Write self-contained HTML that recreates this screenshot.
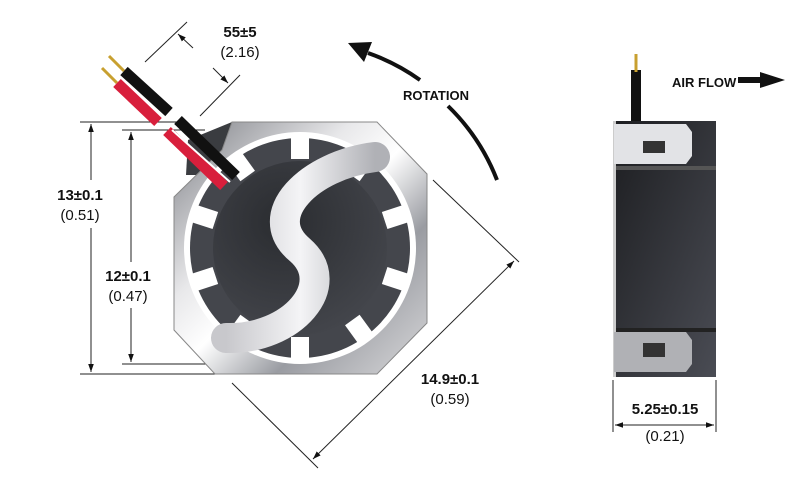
<!DOCTYPE html>
<html><head><meta charset="utf-8"><style>
body{margin:0;background:#fff}
svg{display:block}
text{font-family:"Liberation Sans",sans-serif;fill:#111}
.b{font-weight:bold;font-size:15px}
.n{font-size:15px}
</style></head><body>
<svg width="800" height="484" viewBox="0 0 800 484" xmlns="http://www.w3.org/2000/svg">
<defs>
<linearGradient id="sil" x1="0" y1="0" x2="1" y2="1">
<stop offset="0" stop-color="#7a7c82"/><stop offset="0.35" stop-color="#e8e8ea"/><stop offset="0.5" stop-color="#ffffff"/><stop offset="0.7" stop-color="#9a9ca2"/><stop offset="1" stop-color="#d8d8da"/>
</linearGradient>
<linearGradient id="sil2" x1="0" y1="0" x2="1" y2="0">
<stop offset="0" stop-color="#c8c8cc"/><stop offset="0.5" stop-color="#f4f4f6"/><stop offset="1" stop-color="#b0b1b6"/>
</linearGradient>
<radialGradient id="hub" cx="0.4" cy="0.35" r="0.7">
<stop offset="0" stop-color="#2a2c30"/><stop offset="1" stop-color="#44464c"/>
</radialGradient>
<linearGradient id="side" x1="0" y1="0" x2="1" y2="1">
<stop offset="0" stop-color="#1c1d20"/><stop offset="1" stop-color="#4a4c54"/>
</linearGradient>
<marker id="ar" viewBox="0 0 10 10" refX="10" refY="5" markerWidth="8" markerHeight="8" orient="auto-start-reverse"><path d="M0 1.5L10 5L0 8.5z" fill="#111"/></marker>
</defs>

<g stroke="#222" stroke-width="1" fill="none">
<line x1="80" y1="122" x2="185" y2="122"/>
<line x1="80" y1="374" x2="215" y2="374"/>
<line x1="122" y1="130" x2="205" y2="130"/>
<line x1="122" y1="364" x2="215" y2="364"/>
<line x1="91" y1="124" x2="91" y2="180" marker-start="url(#ar)"/>
<line x1="91" y1="228" x2="91" y2="372" marker-end="url(#ar)"/>
<line x1="131" y1="132" x2="131" y2="262" marker-start="url(#ar)"/>
<line x1="131" y1="308" x2="131" y2="362" marker-end="url(#ar)"/>
<line x1="145" y1="62" x2="187" y2="22"/>
<line x1="200" y1="116" x2="240" y2="75"/>
<line x1="193" y1="48" x2="178" y2="34" marker-end="url(#ar)"/>
<line x1="213" y1="68" x2="228" y2="83" marker-end="url(#ar)"/>
<line x1="433" y1="180" x2="519" y2="262"/>
<line x1="232" y1="383" x2="318" y2="468"/>
<line x1="514" y1="261" x2="313" y2="459" marker-start="url(#ar)" marker-end="url(#ar)"/>
</g>

<g>
<path d="M188 140 L232 122 L232 175 L186 175 Z" fill="#3a3c40"/>
<path d="M232 122 L377 122 L427 174 L427 323 L377 374 L215 374 L174 330 L174 197 L222 150 Z" fill="url(#sil)" stroke="#888" stroke-width="1"/>
<circle cx="300" cy="248" r="116" fill="#fff"/>
<circle cx="300" cy="248" r="110" fill="#44464c"/>
<g fill="#fff" transform="translate(300 248)">
<g id="nt"><rect x="-9" y="-113" width="18" height="24"/></g>
<use href="#nt" transform="rotate(36)"/><use href="#nt" transform="rotate(72)"/><use href="#nt" transform="rotate(108)"/><use href="#nt" transform="rotate(144)"/><use href="#nt" transform="rotate(180)"/><use href="#nt" transform="rotate(216)"/><use href="#nt" transform="rotate(252)"/><use href="#nt" transform="rotate(288)"/><use href="#nt" transform="rotate(324)"/>
</g>
<circle cx="300" cy="248" r="87" fill="url(#hub)"/>
<path d="M375 157 C310 165 258 215 300 250 C340 285 292 340 226 338" fill="none" stroke="url(#sil2)" stroke-width="30" stroke-linecap="round"/>
</g>

<g stroke-linecap="butt">
<line x1="109" y1="56" x2="124" y2="71" stroke="#c8a030" stroke-width="3"/>
<line x1="102" y1="68" x2="117" y2="83" stroke="#c8a030" stroke-width="3"/>
<line x1="124" y1="71" x2="169" y2="112" stroke="#111" stroke-width="11"/>
<line x1="178" y1="120" x2="236" y2="176" stroke="#111" stroke-width="11"/>
<line x1="117" y1="83" x2="158" y2="122" stroke="#d81f3c" stroke-width="11"/>
<line x1="167" y1="131" x2="224" y2="186" stroke="#d81f3c" stroke-width="11"/>
<line x1="172" y1="130" x2="230" y2="182" stroke="#fff" stroke-width="2"/>
</g>

<path d="M497 180 A208 208 0 0 0 448 106" fill="none" stroke="#111" stroke-width="4"/>
<path d="M420 80 A208 208 0 0 0 368 53" fill="none" stroke="#111" stroke-width="4"/>
<path d="M348 43 L372 42 L364 62 Z" fill="#111"/>
<text x="436" y="100" text-anchor="middle" style="font-size:13px;font-weight:bold">ROTATION</text>

<text x="240" y="37" class="b" text-anchor="middle">55±5</text>
<text x="240" y="57" class="n" text-anchor="middle">(2.16)</text>
<text x="80" y="200" class="b" text-anchor="middle">13±0.1</text>
<text x="80" y="220" class="n" text-anchor="middle">(0.51)</text>
<text x="128" y="281" class="b" text-anchor="middle">12±0.1</text>
<text x="128" y="301" class="n" text-anchor="middle">(0.47)</text>
<text x="450" y="384" class="b" text-anchor="middle">14.9±0.1</text>
<text x="450" y="404" class="n" text-anchor="middle">(0.59)</text>

<line x1="636" y1="70" x2="636" y2="121" stroke="#111" stroke-width="10"/>
<line x1="636" y1="54" x2="636" y2="72" stroke="#c8a030" stroke-width="3"/>
<rect x="613" y="121" width="103" height="256" fill="url(#side)"/>
<rect x="613" y="121" width="3" height="256" fill="#ccc"/>
<path d="M614 124 L686 124 L692 132 L692 156 L686 164 L614 164 Z" fill="#e2e3e6"/>
<rect x="643" y="141" width="22" height="12" fill="#333"/>
<rect x="616" y="166" width="100" height="4" fill="#555"/>
<rect x="616" y="328" width="100" height="4" fill="#222"/>
<path d="M614 332 L686 332 L692 340 L692 364 L686 372 L614 372 Z" fill="#b0b1b5"/>
<rect x="643" y="343" width="22" height="14" fill="#333"/>
<text x="672" y="87" style="font-size:13px;font-weight:bold">AIR FLOW</text>
<path d="M738 77 L760 77 L760 72 L785 80 L760 88 L760 83 L738 83 Z" fill="#111"/>
<g stroke="#222" stroke-width="1">
<line x1="613" y1="380" x2="613" y2="432"/>
<line x1="716" y1="380" x2="716" y2="432"/>
<line x1="615" y1="425" x2="714" y2="425" marker-start="url(#ar)" marker-end="url(#ar)"/>
</g>
<text x="665" y="414" class="b" text-anchor="middle">5.25±0.15</text>
<text x="665" y="441" class="n" text-anchor="middle">(0.21)</text>
</svg>
</body></html>
